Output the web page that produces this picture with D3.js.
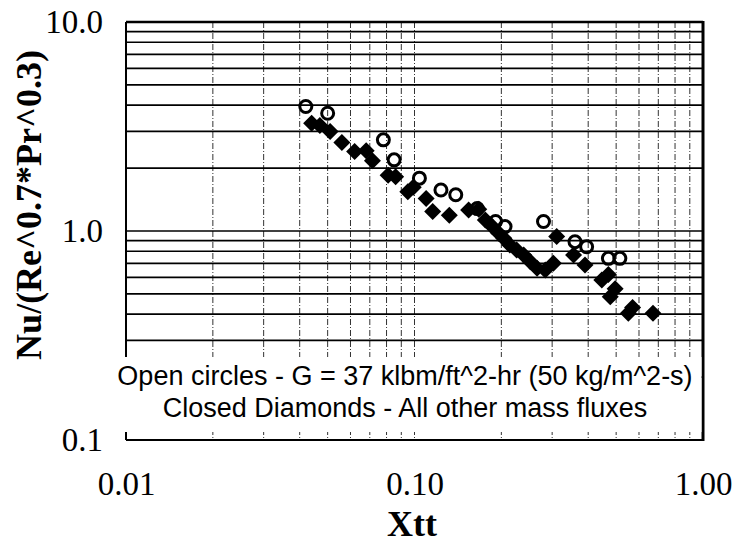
<!DOCTYPE html>
<html><head><meta charset="utf-8">
<script src="https://cdn.jsdelivr.net/npm/d3@7"></script>
<style>body{margin:0;background:#fff}svg{display:block}</style>
</head><body><svg id="c" width="736" height="545"></svg>
<script>
// ---- data ----
const xTickValues = [0.01, 0.1, 1];
const xTickLabels = ["0.01", "0.10", "1.00"];
const yTickValues = [0.1, 1, 10];
const yTickLabels = ["0.1", "1.0", "10.0"];
const xTitle = "Xtt";
const yTitle = "Nu/(Re^0.7*Pr^0.3)";
const legendLines = ["Open circles - G = 37 klbm/ft^2-hr (50 kg/m^2-s)",
                     "Closed Diamonds - All other mass fluxes"];
// Open circles: G = 37 klbm/ft^2-hr
const circleX = [0.042, 0.050, 0.078, 0.085, 0.104, 0.1235, 0.139, 0.165, 0.191, 0.206, 0.28, 0.36, 0.395, 0.47, 0.515];
const circleY = [3.94, 3.66, 2.73, 2.19, 1.79, 1.57, 1.49, 1.28, 1.11, 1.05, 1.11, 0.889, 0.841, 0.74, 0.74];
// Closed diamonds: all other mass fluxes
const diamondX = [0.044, 0.047, 0.051, 0.056, 0.062, 0.068, 0.0715, 0.081, 0.086, 0.0948, 0.099, 0.1097, 0.1156, 0.132, 0.154, 0.167,
                  0.176, 0.186, 0.196, 0.204, 0.214, 0.226, 0.239, 0.252, 0.266, 0.284, 0.303, 0.311, 0.356, 0.39,
                  0.446, 0.47, 0.477, 0.496, 0.551, 0.57, 0.671];
const diamondY = [3.28, 3.2, 2.99, 2.65, 2.40, 2.42, 2.17, 1.85, 1.82, 1.54, 1.62, 1.43, 1.24, 1.19, 1.26, 1.27,
                  1.13, 1.05, 0.975, 0.923, 0.857, 0.811, 0.768, 0.713, 0.663, 0.651, 0.70, 0.94, 0.768, 0.688,
                  0.583, 0.62, 0.485, 0.53, 0.404, 0.43, 0.404];

// ---- layout ----
const L = 126, R = 703, T = 22, B = 440;
const svg = d3.select("#c");
const x = d3.scaleLog().domain([0.01, 1]).range([L, R]);
const y = d3.scaleLog().domain([0.1, 10]).range([B, T]);

const minors = [];
[0.01, 0.1, 1].forEach(d => { for (let k = 1; k <= 9; k++) minors.push(d * k); });
const xMinor = minors.filter(v => v > 0.0100001 && v < 0.99999);
const yMinor = minors.filter(v => v > 0.1000001 && v < 9.9999);

// vertical gridlines (dashed)
svg.append("g").selectAll("line").data(xMinor).join("line")
  .attr("x1", d => x(d)).attr("x2", d => x(d)).attr("y1", T).attr("y2", B)
  .attr("stroke", "#333").attr("stroke-width", 1).attr("stroke-dasharray", "6,2,1,2");
// horizontal gridlines (solid)
svg.append("g").selectAll("line").data(yMinor).join("line")
  .attr("x1", L).attr("x2", R).attr("y1", d => y(d)).attr("y2", d => y(d))
  .attr("stroke", "#000").attr("stroke-width", 1.7);

// frame
svg.append("line").attr("x1", L).attr("x2", R).attr("y1", T).attr("y2", T).attr("stroke", "#000").attr("stroke-width", 2.4);
svg.append("line").attr("x1", L).attr("x2", R).attr("y1", B).attr("y2", B).attr("stroke", "#000").attr("stroke-width", 2);
svg.append("line").attr("x1", L).attr("x2", L).attr("y1", T).attr("y2", B).attr("stroke", "#000").attr("stroke-width", 2);
svg.append("line").attr("x1", R).attr("x2", R).attr("y1", T - 1).attr("y2", B + 1).attr("stroke", "#000").attr("stroke-width", 3);

// diamonds
const dsz = 8.5;
svg.append("g").selectAll("path").data(diamondX.map((v, i) => [v, diamondY[i]])).join("path")
  .attr("d", d => `M${x(d[0])},${y(d[1]) - dsz}L${x(d[0]) + dsz},${y(d[1])}L${x(d[0])},${y(d[1]) + dsz}L${x(d[0]) - dsz},${y(d[1])}Z`)
  .attr("fill", "#000");
// circles
svg.append("g").selectAll("circle").data(circleX.map((v, i) => [v, circleY[i]])).join("circle")
  .attr("cx", d => x(d[0])).attr("cy", d => y(d[1])).attr("r", 6)
  .attr("fill", "none").attr("stroke", "#000").attr("stroke-width", 3);

// legend box (white, no border)
svg.append("rect").attr("x", 114).attr("y", 357).attr("width", R - 1.5 - 114).attr("height", 75).attr("fill", "#fff");
svg.append("g").selectAll("text").data(legendLines).join("text")
  .attr("x", 405).attr("y", (d, i) => 385 + i * 32).attr("text-anchor", "middle")
  .attr("font-family", "Liberation Sans, Arial, sans-serif").attr("font-size", 27).attr("fill", "#000")
  .text(d => d);

// axes labels via d3 axes
const tickFont = "Liberation Serif, Times New Roman, serif";
const ax = svg.append("g").attr("transform", `translate(0,${B})`)
  .call(d3.axisBottom(x).tickValues(xTickValues).tickSize(0).tickPadding(32)
        .tickFormat((d, i) => xTickLabels[i]));
const ay = svg.append("g").attr("transform", `translate(${L},0)`)
  .call(d3.axisLeft(y).tickValues(yTickValues).tickSize(0).tickPadding(23)
        .tickFormat((d, i) => yTickLabels[i]));
[ax, ay].forEach(g => {
  g.select(".domain").remove();
  g.selectAll("text").attr("font-family", tickFont).attr("font-size", 33).attr("fill", "#000");
});

svg.append("text").attr("x", 412).attr("y", 536).attr("text-anchor", "middle")
  .attr("font-family", tickFont).attr("font-weight", "bold").attr("font-size", 36).text(xTitle);
svg.append("text").attr("transform", "translate(41,205) rotate(-90)").attr("text-anchor", "middle")
  .attr("font-family", tickFont).attr("font-weight", "bold").attr("font-size", 36).text(yTitle);
</script>
</body></html>
